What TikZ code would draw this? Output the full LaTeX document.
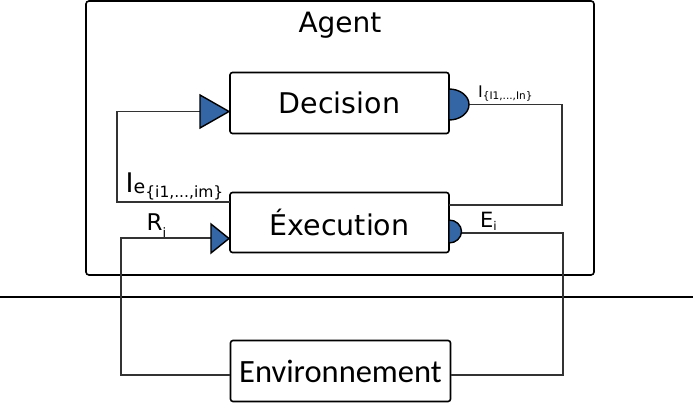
\documentclass[tikz,border=0pt]{standalone}
\usepackage{fontspec}
\setmainfont{DejaVu Sans}
\newfontfamily\envfont{Carlito}
\definecolor{portblue}{HTML}{3465A4}
\begin{document}
\begin{tikzpicture}[x=1pt,y=-1pt,
  frame/.style={draw, line width=1.6pt, rounded corners=3pt, inner sep=0pt},
  box/.style={draw, line width=1.6pt, rounded corners=2.5pt, minimum width=219pt,
    minimum height=61pt, inner sep=0pt, font=\fontsize{28.5}{30}\selectfont},
  wire/.style={line width=1.1pt, draw=black!80},
  port/.style={fill=portblue, draw=black, line width=1.4pt},
  lbl/.style={anchor=base west, inner sep=0pt}
]
\useasboundingbox (0,0) rectangle (693,403);
% agent frame
\node[frame, minimum width=508pt, minimum height=274pt] (agent) at (340,138) {};
\node[anchor=base, inner sep=0pt, font=\fontsize{28}{30}\selectfont] (title) at (340,33) {Agent};
% separator
\draw[line width=1.2pt] (0,297) -- (693,297);
% boxes
\node[box] (dec) at (339.5,103) {Decision};
\node[box, minimum height=60pt] (exe) at (339.5,222.5) {Éxecution};
\node[box, minimum width=220pt, font=\envfont\fontsize{32.5}{34}\selectfont] (env) at (340.5,371) {Environnement};
% port coordinates
\coordinate (decin) at (200,111.5);
\coordinate (decout) at (469,104.5);
\coordinate (exein) at (211,238);
\coordinate (exeout) at (461,233);
\coordinate (exeI) at (449,205);
\coordinate (exeIe) at (230,202);
\coordinate (envR) at (230,375);
\coordinate (envE) at (451,375);
% wires
\draw[wire] (decout) -- (562,104.5) -- (562,205) -- (exeI);
\draw[wire] (exeIe) -- (117,202) -- (117,111.5) -- (decin);
\draw[wire] (envR) -- (121,375) -- (121,238) -- (exein);
\draw[wire] (exeout) -- (563,233) -- (563,375) -- (envE);
% ports
\filldraw[port] (200,95) -- (229,111.5) -- (200,128) -- cycle;
\filldraw[port] (211,224) -- (229,238.5) -- (211,253) -- cycle;
\filldraw[port] (449,89) arc[start angle=90,end angle=-90,x radius=20pt,y radius=15.5pt] -- cycle;
\filldraw[port] (449,220) arc[start angle=90,end angle=-90,x radius=12.5pt,y radius=11.5pt] -- cycle;
% labels
\node[lbl] (lI) at (478,97.5) {\fontsize{16}{18}\selectfont I\raisebox{-2.2pt}{\fontsize{10.5}{11}\selectfont\{I1,...,In\}}};
\node[lbl] (lE) at (480,228) {\fontsize{21}{23}\selectfont E\raisebox{-3pt}{\fontsize{12}{13}\selectfont i}};
\node[lbl] (lR) at (146.5,231) {\fontsize{23}{25}\selectfont R\raisebox{-7pt}{\fontsize{13}{14}\selectfont i}};
\node[lbl] (lIe) at (125.5,193) {\fontsize{27}{29}\selectfont I\raisebox{-0.5pt}{\fontsize{19}{20}\selectfont e\raisebox{-4.5pt}{\fontsize{15.5}{16}\selectfont\{i1,...,im\}}}};
\end{tikzpicture}
\end{document}
